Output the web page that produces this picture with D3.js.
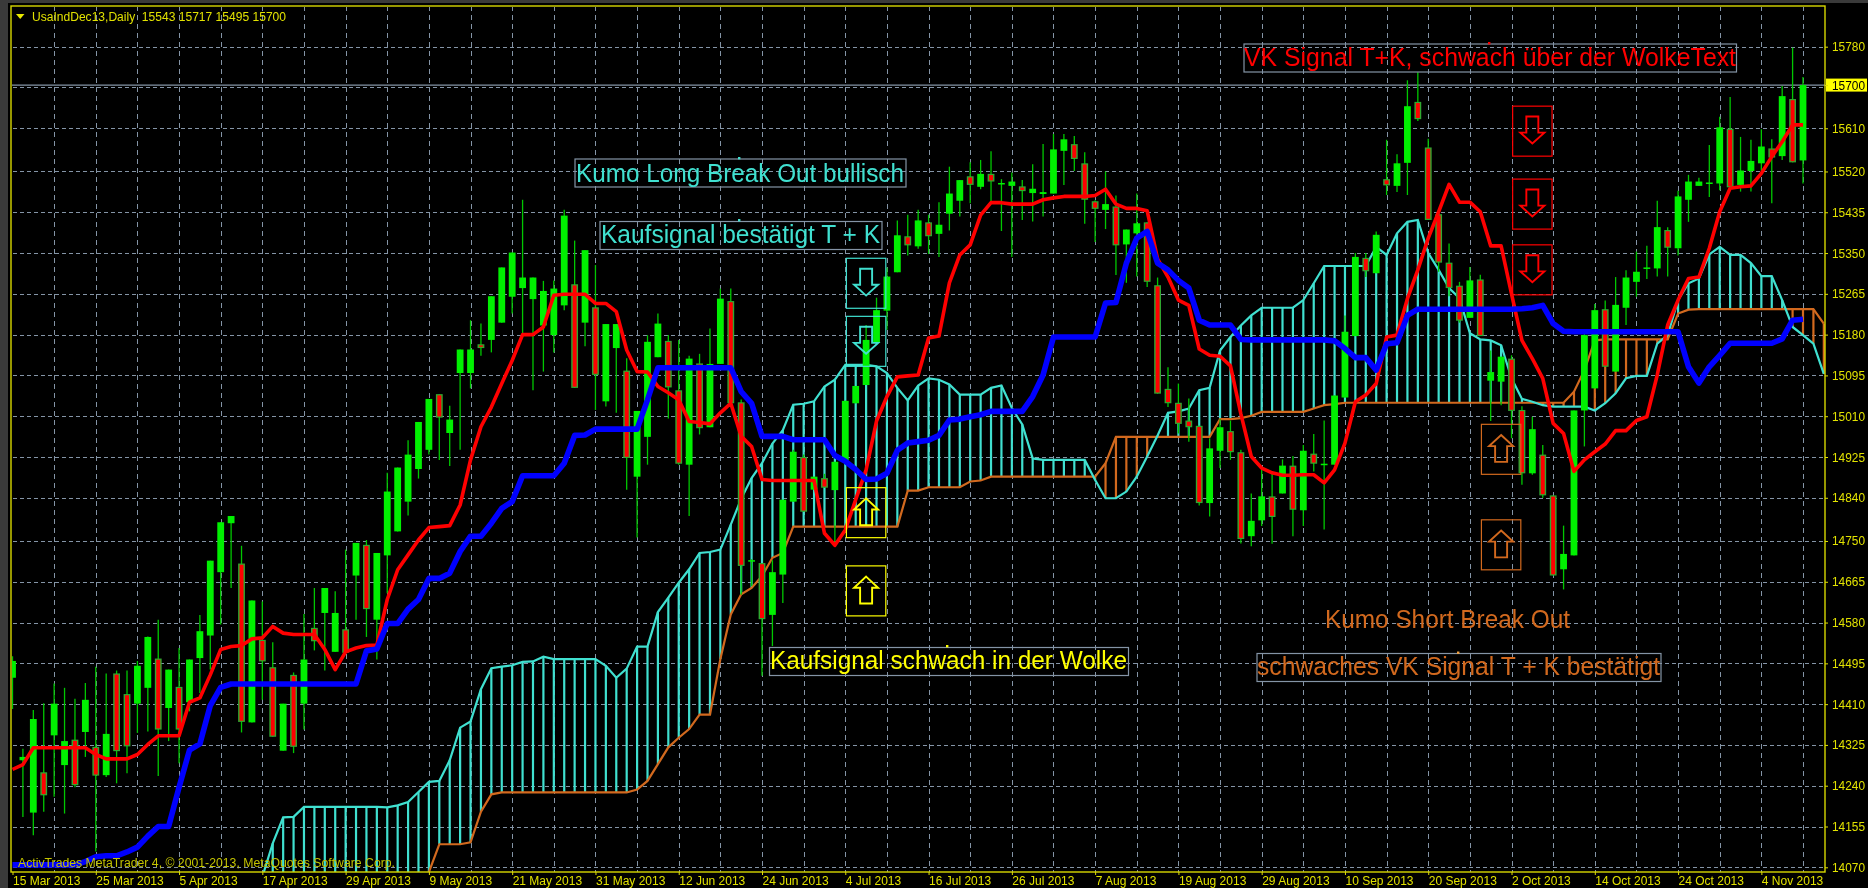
<!DOCTYPE html>
<html><head><meta charset="utf-8">
<style>
html,body{margin:0;padding:0;background:#000;overflow:hidden}
svg{display:block;filter:blur(0.35px)}
text{font-family:"Liberation Sans",Arial,sans-serif}
</style>
<script src="https://cdn.jsdelivr.net/npm/d3@7/dist/d3.min.js"></script>
</head><body><svg id="c" width="1868" height="888"></svg>
<script>
const open=[14465,14293,14184,14268,14345,14283,14336,14352,14321,14262,14474,14431,14411,14444,14505,14402,14446,14414,14506,14553,
14685,14787,14703,14372,14544,14487,14313,14471,14411,14569,14600,14519,14566,14678,14742,14586,14720,14770,14832,14900,
14940,15056,14975,15100,15100,15160,15169,15205,15259,15277,15254,15199,15179,15241,15285,15205,15237,15041,15152,15105,
14884,14967,15133,15167,15064,14909,15120,14987,15119,15250,15039,14708,14704,14596,14680,14832,14925,14857,14881,14856,
14918,15037,15075,15163,15230,15310,15385,15364,15414,15390,15432,15459,15510,15488,15515,15494,15490,15489,15475,15473,
15474,15563,15577,15537,15458,15440,15447,15368,15391,15414,15283,15067,15038,15001,14990,14829,14938,14979,14935,14760,
14793,14843,14849,14907,14814,14932,14909,14909,15049,15177,15340,15308,15504,15490,15538,15665,15570,15431,15330,15282,
15215,15295,15084,15082,15130,15023,14891,14930,14845,14691,14720,15022,15068,15233,15103,15236,15290,15318,15318,15398,
15360,15461,15490,15494,15495,15609,15492,15521,15537,15568,15552,15671,15543];
const high=[14510,14317,14398,14412,14453,14444,14421,14454,14488,14474,14480,14480,14500,14551,14586,14482,14527,14503,14596,14709,
14789,14802,14740,14626,14624,14539,14411,14476,14598,14652,14652,14645,14732,14746,14752,14725,14892,14903,14960,14998,
15046,15056,15032,15149,15210,15203,15260,15320,15351,15461,15299,15292,15293,15440,15376,15356,15325,15202,15202,15131,
15021,15179,15224,15179,15169,15136,15140,15193,15276,15276,15045,14712,14704,14710,14836,14940,14930,14884,14890,14915,
15042,15073,15200,15257,15320,15418,15430,15440,15430,15456,15530,15502,15539,15544,15562,15504,15518,15502,15535,15577,
15598,15598,15594,15560,15460,15520,15470,15399,15474,15414,15299,15112,15078,15047,14990,14964,15004,15001,14940,14849,
14902,14891,14920,14927,14950,14973,15001,15053,15220,15350,15350,15395,15586,15556,15710,15727,15588,15435,15370,15290,
15321,15305,15147,15134,15137,15031,15009,14950,14845,14782,15022,15185,15244,15251,15300,15314,15353,15365,15459,15404,
15480,15513,15507,15575,15634,15675,15592,15586,15608,15587,15698,15778,15717];
const low=[14400,14175,14137,14186,14217,14182,14237,14300,14103,14258,14245,14266,14350,14353,14260,14333,14287,14395,14433,14482,
14576,14652,14351,14372,14419,14342,14313,14308,14357,14522,14480,14519,14517,14586,14550,14503,14641,14770,14803,14880,
14930,14919,14906,14940,15068,15136,15143,15205,15224,15180,15064,15103,15143,15231,15069,15156,15023,15030,15017,14857,
14757,14909,15133,15005,14909,14802,14972,14987,15119,15030,14638,14656,14469,14531,14621,14832,14811,14857,14861,14738,
14918,15037,15075,15163,15190,15310,15345,15359,15348,15342,15397,15426,15454,15483,15456,15396,15342,15419,15416,15426,
15474,15492,15521,15411,15373,15400,15304,15288,15301,15279,15057,15029,14974,14957,14824,14801,14902,14919,14745,14739,
14781,14744,14849,14760,14781,14895,14774,14909,15049,15177,15300,15308,15471,15477,15471,15625,15419,15311,15260,15205,
15215,15177,15000,15033,14964,14867,14888,14840,14678,14649,14720,14947,15068,15113,15103,15200,15259,15296,15301,15301,
15345,15415,15490,15467,15481,15487,15478,15478,15521,15454,15544,15539,15495];
const close=[14500,14300,14379,14220,14411,14333,14241,14419,14261,14348,14312,14322,14490,14550,14357,14482,14357,14503,14562,14709,
14789,14802,14373,14626,14499,14342,14411,14321,14503,14541,14652,14600,14517,14746,14608,14725,14853,14903,14930,14998,
15046,15007,15003,15149,15149,15152,15260,15320,15351,15299,15299,15271,15276,15428,15069,15356,15096,15202,15202,14923,
15021,15165,15203,15070,14911,15130,14985,15119,15255,15037,14698,14710,14587,14685,14836,14936,14811,14884,14861,14915,
15042,15073,15169,15231,15301,15387,15366,15418,15385,15409,15474,15502,15492,15515,15499,15496,15499,15479,15484,15477,
15566,15587,15546,15461,15442,15452,15366,15399,15412,15290,15057,15037,14994,14987,14829,14943,14987,14935,14754,14792,
14843,14800,14907,14815,14938,14911,14911,15053,15186,15342,15312,15388,15491,15537,15656,15629,15419,15330,15277,15209,
15293,15177,15102,15134,15021,14891,14983,14845,14678,14723,15022,15179,15231,15113,15242,15299,15311,15320,15404,15361,
15468,15499,15499,15497,15612,15487,15522,15542,15572,15549,15677,15539,15700];
const tenkan=[14274,14284,14319,14319,14319,14319,14319,14319,14305,14296,14296,14296,14305,14326,14344,14344,14344,14414,14423,14471,
14524,14530,14532,14546,14548,14572,14558,14555,14555,14555,14524,14482,14519,14527,14532,14533,14628,14690,14721,14752,
14778,14780,14782,14825,14919,14988,15029,15078,15126,15180,15180,15196,15262,15264,15264,15264,15245,15245,15228,15148,
15103,15102,15072,15059,15044,14999,14997,14994,15017,15037,14968,14947,14878,14876,14876,14876,14876,14876,14766,14741,
14773,14836,14898,15000,15051,15092,15094,15096,15173,15177,15288,15346,15367,15429,15455,15455,15452,15452,15452,15461,
15465,15468,15468,15468,15470,15483,15452,15443,15443,15438,15338,15300,15252,15241,15150,15137,15135,15115,15015,14926,
14902,14892,14887,14887,14888,14888,14871,14898,14954,15040,15054,15078,15175,15179,15255,15315,15381,15436,15493,15456,
15456,15436,15365,15365,15265,15168,15130,15089,14995,14974,14895,14919,14936,14952,14980,14980,15001,15009,15096,15200,
15252,15297,15300,15360,15436,15485,15488,15490,15516,15551,15582,15617,15617];
const kijun=[14075,14075,14075,14075,14075,14075,14075,14082,14092,14094,14094,14102,14112,14135,14155,14155,14237,14314,14327,14407,
14445,14452,14452,14452,14452,14452,14452,14452,14452,14452,14452,14452,14452,14452,14521,14525,14578,14578,14608,14628,
14672,14672,14683,14728,14760,14760,14787,14818,14832,14886,14886,14886,14886,14912,14970,14971,14983,14983,14983,14983,
14983,15044,15111,15111,15111,15111,15111,15111,15111,15111,15061,15037,14968,14968,14968,14961,14961,14961,14961,14928,
14916,14899,14878,14879,14891,14939,14954,14957,14960,14970,15002,15004,15009,15013,15020,15020,15020,15020,15051,15096,
15175,15175,15175,15175,15175,15246,15247,15329,15381,15395,15329,15315,15293,15277,15210,15200,15200,15200,15170,15169,
15169,15169,15169,15169,15169,15169,15169,15167,15151,15132,15132,15106,15161,15163,15220,15233,15233,15233,15233,15233,
15233,15233,15233,15233,15233,15234,15236,15241,15203,15187,15186,15186,15186,15186,15186,15186,15186,15186,15186,15186,
15186,15113,15079,15113,15137,15162,15162,15162,15162,15162,15171,15210,15212];
const cloudStart=24;
const spanA=[14050,14120,14174,14175,14196,14196,14196,14196,14196,14196,14196,14196,14195,14199,14206,14227,
14248,14250,14293,14361,14374,14441,14485,14488,14491,14498,14499,14509,14504,14504,14504,14504,14504,14490,14465,14484,
14530,14530,14602,14632,14663,14691,14725,14727,14732,14784,14838,14881,14912,14953,14981,15034,15036,15041,15072,15086,
15117,15117,15117,15114,15100,15069,15043,15074,15089,15086,15076,15055,15055,15055,15069,15074,15027,14993,14922,14919,
14919,14919,14919,14919,14877,14839,14839,14853,14884,14926,14970,15017,15020,15026,15064,15069,15147,15175,15199,15220,
15236,15236,15236,15236,15252,15287,15323,15323,15323,15323,15323,15363,15346,15391,15415,15419,15350,15315,15277,15256,
15183,15170,15168,15158,15089,15046,15040,15033,15030,15030,15030,15030,15022,15037,15058,15089,15094,15094,15161,15179,
15252,15287,15297,15347,15363,15346,15346,15329,15302,15302,15252,15196,15179,15161,15098];
const spanB=[14000,14000,14000,14000,14000,14000,14000,14000,14000,14000,14000,14000,14000,14000,14000,14000,
14060,14118,14118,14118,14122,14186,14222,14226,14226,14226,14226,14226,14226,14226,14226,14226,14226,14226,14226,14226,
14232,14250,14285,14320,14340,14358,14388,14388,14504,14597,14639,14652,14677,14715,14725,14780,14780,14780,14780,14780,
14780,14780,14780,14780,14780,14780,14855,14855,14862,14862,14862,14862,14874,14876,14884,14884,14884,14884,14884,14884,
14884,14884,14884,14884,14884,14912,14967,14967,14967,14967,14967,14967,14967,14967,14967,14967,15004,15004,15006,15011,
15019,15019,15019,15019,15019,15026,15033,15035,15038,15038,15038,15038,15038,15038,15038,15038,15038,15038,15038,15038,
15038,15038,15038,15038,15038,15038,15038,15038,15038,15038,15061,15106,15168,15170,15170,15170,15170,15170,15170,15170,
15224,15232,15233,15233,15233,15233,15233,15233,15233,15233,15233,15233,15233,15233,15203];
const priceLabels=[15780,15700,15610,15520,15435,15350,15265,15180,15095,15010,14925,14840,14750,14665,14580,14495,14410,14325,14240,14155,14070];
const gridPrices=[15780,15695,15610,15520,15435,15350,15265,15180,15095,15010,14925,14840,14750,14665,14580,14495,14410,14325,14240,14155,14070];
const dateBars=[0,8,16,24,32,40,48,56,64,72,80,88,96,104,112,120,128,136,144,152,160,168];
const dateLabels=["15 Mar 2013","25 Mar 2013","5 Apr 2013","17 Apr 2013","29 Apr 2013","9 May 2013","21 May 2013","31 May 2013","12 Jun 2013","24 Jun 2013","4 Jul 2013","16 Jul 2013","26 Jul 2013","7 Aug 2013","19 Aug 2013","29 Aug 2013","10 Sep 2013","20 Sep 2013","2 Oct 2013","14 Oct 2013","24 Oct 2013","4 Nov 2013"];
const lastPrice=15700;
const arrowBars=[82,82,82,82,146,146,146,143,143];
const arrowPrices=[15287,15166,14809,14646,15604,15452,15315,14941,14742];
const arrowDirs=["down","down","up","up","down","down","down","up","up"];
const arrowKinds=["cyan","cyan","yellow","yellow","red","red","red","orange","orange"];
const notes=["Kumo Long Break Out bullisch","Kaufsignal bestätigt T + K","VK Signal T+K, schwach über der WolkeText","Kaufsignal schwach in der Wolke","Kumo Short Break Out","schwaches VK Signal T + K bestätigt"];
const noteKinds=["cyan","cyan","red","yellow","orange","orange"];
const header="UsaIndDec13,Daily  15543 15717 15495 15700";
const footer="ActivTrades MetaTrader 4, © 2001-2013, MetaQuotes Software Corp.";

// ---- layout and styles ----
const colours={cyan:"#40e0d0",yellow:"#ffff00",red:"#ff0000",orange:"#d2691e"};
const frame={l:11,t:6,r:1825,b:872};
const grey="#8494a6", axisYellow="#e2e200";
const noteLayout=[
 {x:575,y0:159,x1:906,y1:187,tx:576,base:182,w:328,box:true},
 {x:600,y0:221.5,x1:882,y1:249.5,tx:601,base:243,w:279,box:true},
 {x:1244,y0:44,x1:1736.5,y1:72,tx:1244,base:65.5,w:492,box:true},
 {x:769.5,y0:647.5,x1:1128.5,y1:675.5,tx:770,base:668.5,w:357,box:true},
 {tx:1325,base:628,w:245,box:false},
 {x:1257,y0:653.5,x1:1661,y1:681.5,tx:1257,base:675,w:403,box:true}];
const noteDots=[[739,158,"#40e0d0"],[739,220,"#40e0d0"],[1489,43,"#ff0000"],[947,646,"#ffff00"],[1458,652.5,"#f0a040"]];

const svg=d3.select("#c");
const x=d3.scaleLinear().domain([0,172]).range([12.5,1803]);
const y=d3.scaleLinear().domain([14070,15780]).range([867.3,46.7]);
const bars=d3.range(open.length);
const cloud=d3.range(spanA.length).map(k=>({i:k+cloudStart,a:spanA[k],b:spanB[k]}));

svg.append("rect").attr("width",1868).attr("height",888).attr("fill","#000");
svg.append("rect").attr("width",1868).attr("height",3).attr("fill","#3a3a3a");
svg.append("rect").attr("width",8).attr("height",888).attr("fill","#3a3a3a");
svg.append("clipPath").attr("id","plot").append("rect").attr("x",frame.l+1).attr("y",frame.t+1).attr("width",frame.r-frame.l-1).attr("height",frame.b-frame.t-1);

const plot=svg.append("g").attr("clip-path","url(#plot)");
// grid
plot.append("g").selectAll("line").data(gridPrices).join("line")
 .attr("x1",frame.l+2).attr("x2",frame.r).attr("y1",d=>Math.round(y(d))+.5).attr("y2",d=>Math.round(y(d))+.5)
 .attr("stroke",grey).attr("stroke-dasharray","4,3");
plot.append("g").selectAll("line").data(d3.range(4,173,4)).join("line")
 .attr("x1",d=>Math.round(x(d))+.5).attr("x2",d=>Math.round(x(d))+.5).attr("y1",frame.t).attr("y2",frame.b)
 .attr("stroke",grey).attr("stroke-dasharray","5,4");
plot.append("line").attr("x1",frame.l).attr("x2",frame.r).attr("y1",y(lastPrice)).attr("y2",y(lastPrice)).attr("stroke",grey).attr("stroke-width",1.2);

// cloud hatch and spans
plot.append("g").selectAll("line").data(cloud).join("line")
 .attr("x1",d=>x(d.i)).attr("x2",d=>x(d.i)).attr("y1",d=>y(d.a)).attr("y2",d=>y(d.b))
 .attr("stroke",d=>d.a>=d.b?colours.cyan:colours.orange).attr("stroke-width",2.2);
const line=f=>d3.line().x(d=>x(d.i)).y(f);
plot.append("path").attr("d",line(d=>y(d.b))(cloud)).attr("fill","none").attr("stroke",colours.orange).attr("stroke-width",2.2);
plot.append("path").attr("d",line(d=>y(d.a))(cloud)).attr("fill","none").attr("stroke",colours.cyan).attr("stroke-width",2.2);

// candles
const c=plot.append("g").selectAll("g").data(bars).join("g");
c.append("line").attr("x1",i=>x(i)).attr("x2",i=>x(i)).attr("y1",i=>y(high[i])).attr("y2",i=>y(low[i])).attr("stroke","#00c800").attr("stroke-width",1.3);
c.append("rect").attr("x",i=>x(i)-3.4).attr("width",6.8)
 .attr("y",i=>y(Math.max(open[i],close[i]))).attr("height",i=>Math.max(1.5,Math.abs(y(open[i])-y(close[i]))))
 .attr("fill",i=>close[i]<open[i]?"#30a830":"#00f000");
c.filter(i=>close[i]<open[i]).append("rect").attr("x",i=>x(i)-2).attr("width",4)
 .attr("y",i=>y(open[i])+1.2).attr("height",i=>Math.max(1,y(close[i])-y(open[i])-2.4)).attr("fill","#ff0000");

// tenkan, kijun
const l2=d3.line().x((d,i)=>x(i)).y(d=>y(d));
plot.append("path").attr("d",l2(tenkan)).attr("fill","none").attr("stroke","#ff0000").attr("stroke-width",3.6).attr("stroke-linejoin","round");
plot.append("path").attr("d",l2(kijun)).attr("fill","none").attr("stroke","#0000ff").attr("stroke-width",5.6).attr("stroke-linejoin","round");

// footer over the plot
svg.append("text").attr("x",18).attr("y",866.5).text(footer).attr("font-size",12.5).attr("fill","#c4c400").attr("textLength",377).attr("lengthAdjust","spacingAndGlyphs");

// arrow boxes
const upShape=[[0,-14.3],[12,-3.2],[6,-3.2],[6,12.6],[-6,12.6],[-6,-3.2],[-12,-3.2]];
const downShape=[[-6,-14.6],[6,-14.6],[6,1.5],[12,1.5],[0,12.3],[-12,1.5],[-6,1.5]];
const ag=svg.append("g").selectAll("g").data(arrowBars).join("g").attr("transform",(b,k)=>`translate(${x(b)},${y(arrowPrices[k])})`);
ag.append("rect").attr("x",-19.7).attr("y",-25).attr("width",39.4).attr("height",50).attr("fill","none")
 .attr("stroke",(b,k)=>colours[arrowKinds[k]]).attr("stroke-width",1.2);
ag.append("path").attr("d",(b,k)=>d3.line()(arrowDirs[k]==="up"?upShape:downShape)+"Z").attr("fill","none")
 .attr("stroke",(b,k)=>colours[arrowKinds[k]]).attr("stroke-width",1.9);

// notes
noteLayout.forEach((n,k)=>{
 if(n.box) svg.append("rect").attr("x",n.x).attr("y",n.y0).attr("width",n.x1-n.x).attr("height",n.y1-n.y0).attr("fill","none").attr("stroke",grey).attr("stroke-width",1.2);
 svg.append("text").attr("x",n.tx).attr("y",n.base).text(notes[k]).attr("font-size",25.5).attr("fill",colours[noteKinds[k]])
  .attr("textLength",n.w).attr("lengthAdjust","spacingAndGlyphs");
});
svg.append("g").selectAll("rect").data(noteDots).join("rect").attr("x",d=>d[0]-1).attr("y",d=>d[1]-1).attr("width",2.4).attr("height",2.4).attr("fill",d=>d[2]);

// frame
svg.append("rect").attr("x",frame.l).attr("y",frame.t).attr("width",frame.r-frame.l).attr("height",frame.b-frame.t).attr("fill","none").attr("stroke","#d8d800").attr("stroke-width",1.4);

// header
svg.append("path").attr("d",d3.line()([[16,14],[24.5,14],[20.2,19]])+"Z").attr("fill","#e8e800");
svg.append("text").attr("x",32).attr("y",20.5).text(header).attr("font-size",12.5).attr("fill","#e2e200").attr("textLength",254).attr("lengthAdjust","spacingAndGlyphs").style("white-space","pre");

// price axis
const yAxis=d3.axisRight(y).tickValues(priceLabels).tickFormat(d3.format("d")).tickSize(3).tickPadding(4);
const ya=svg.append("g").attr("transform",`translate(${frame.r},0)`).call(yAxis);
ya.select(".domain").remove();
ya.selectAll("line").attr("stroke",axisYellow);
ya.selectAll("text").attr("font-size",12.5).attr("font-family",'"Liberation Sans",Arial,sans-serif').attr("fill",axisYellow).attr("textLength",33).attr("lengthAdjust","spacingAndGlyphs");
ya.selectAll(".tick").filter(d=>d===lastPrice).each(function(){
 d3.select(this).insert("rect",":first-child").attr("x",1).attr("y",-7).attr("width",41).attr("height",13).attr("fill","#ffff00");
 d3.select(this).select("text").attr("fill","#000");
});

// time axis
const xAxis=d3.axisBottom(x).tickValues(dateBars).tickFormat((d,k)=>dateLabels[k]).tickSize(3).tickPadding(2);
const xa=svg.append("g").attr("transform",`translate(0,${frame.b})`).call(xAxis);
xa.select(".domain").remove();
xa.selectAll("line").attr("stroke",axisYellow);
xa.selectAll("text").attr("font-size",12).attr("font-family",'"Liberation Sans",Arial,sans-serif').attr("fill",axisYellow)
 .attr("text-anchor","start").attr("dy",0).attr("y",12.5).attr("dominant-baseline","auto");
</script></body></html>
